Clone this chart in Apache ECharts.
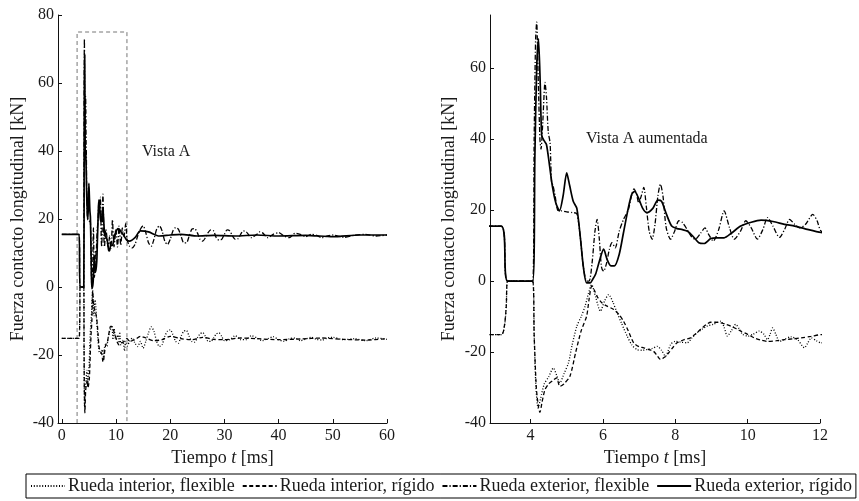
<!DOCTYPE html>
<html>
<head>
<meta charset="utf-8">
<script src="https://cdn.jsdelivr.net/npm/echarts@6/dist/echarts.min.js"></script>
<style>html,body{margin:0;padding:0;background:#fff}#c{width:859px;height:501px}</style>
</head>
<body>
<div id="c"></div>
<script>
// ---------- DATA ----------
const seriesNames = ['Rueda interior, flexible', 'Rueda interior, rígido', 'Rueda exterior, flexible', 'Rueda exterior, rígido'];

// Rueda exterior, rígido (solid)
const tExtRig = [0,3.19,3.37,4.06,4.12,4.17,4.22,4.27,4.31,4.38,4.44,4.52,4.6,4.7,4.8,4.9,5.0,5.08,5.18,5.28,5.38,5.46,5.55,5.65,5.72,5.8,5.9,6.02,6.12,6.22,6.32,6.45,6.57,6.7,6.8,6.88,6.98,7.1,7.22,7.38,7.52,7.62,7.75,7.9,8.05,8.2,8.35,8.5,8.65,8.8,8.98,9.15,9.35,9.55,9.81,10.1,10.37,10.7,11.02,11.3,11.57,12.03,
  12.5,13.5,14.5,16,18,20,22,25,28,32,36,40,45,50,55,60];
const vExtRig = [15.5,15.5,0,0,35,60,68.3,55,41,39.5,38.5,33,27,22,19.8,24,30.5,27,22.5,20.5,12,4,-0.5,-0.5,0.5,2,5.5,9,6,4.3,4.3,7.5,13.7,20.5,24.5,25.3,23.5,20.5,19.3,20.5,22.8,22.5,19,15.5,14.8,14.5,14,12.5,10.8,10.6,12,12.2,12.2,13.5,15.5,16.6,17.2,16.8,16,15.5,14.8,13.7,
  13.5,14.5,16.5,16.2,15,15.3,15.5,15,15.2,15,15.3,15,15.2,14.8,15.3,15.3];

// Rueda exterior, flexible (dash-dot)
const tExtFlex = [0,3.19,3.37,4.06,4.1,4.14,4.17,4.21,4.26,4.29,4.34,4.4,4.44,4.49,4.54,4.58,4.62,4.68,4.75,4.85,5.0,5.15,5.28,5.38,5.46,5.55,5.62,5.7,5.78,5.84,5.9,5.96,6.02,6.1,6.18,6.25,6.34,6.45,6.57,6.7,6.8,6.86,6.93,6.99,7.06,7.13,7.2,7.28,7.36,7.44,7.52,7.59,7.66,7.75,7.87,7.98,8.1,8.2,8.33,8.45,8.55,8.7,8.82,8.93,9.05,9.2,9.35,9.5,9.63,9.8,9.95,10.1,10.27,10.42,10.55,10.7,10.88,11.02,11.16,11.3,11.44,11.6,11.8,11.92,12.03,
  12.5,13,13.5,14,14.5,15,15.5,16,16.5,17,17.5,18,18.5,19,19.5,20,20.5,21,21.5,22,22.5,23,23.5,24,24.5,25,25.5,26,26.5,27,27.5,28,28.5,29,29.5,30,30.5,31,31.5,32,32.5,33,33.5,34,35,36,36.5,37,38,39,40,41,42,43,44,45,46,47,48,49,50,52,54,56,58,60];
const vExtFlex = [15.5,15.5,0,0,40,68,73,58,40,37.2,45,56,52,42,39,28,27,24,20,19.8,19.5,19.3,19,12,4,0,0,5,14,17.4,12,4,2.8,5,9,10.8,9.4,14,17.4,20,24.5,26,24.5,22,24,26.4,21,14,11.8,16,24,27.3,24,15,11.8,14,17,16.5,14.5,12.5,11.8,13.5,15,13,11.3,14.5,19.8,15,11.8,14,17,15,11.8,14.5,17.9,15.5,12.3,14.5,17.4,16,15,16,18.8,17,14.1,
  12,11.5,12.5,15,17,18,16,13,12,14,17,18,16.5,13.5,12.5,14,16.5,17.5,17,15,13,13,15,17,17.2,16,14,13.5,14.5,16,16.8,16.5,14.5,13.8,14,15.5,16.8,16.5,15,14,14.2,15.5,16.5,16.3,14.5,15.5,16.2,16,14.5,15.5,16,15,14.5,15.8,15.5,14.8,15.5,15.2,14.5,15,15.3,14.6,15.2,15.5,15,15.3];

// Rueda interior, rígido (dashed)
const tIntRig = [0,3.19,3.28,3.33,3.37,4.06,4.1,4.16,4.22,4.26,4.32,4.4,4.5,4.62,4.72,4.81,4.92,5.09,5.25,5.4,5.55,5.62,5.69,5.76,5.85,5.97,6.1,6.3,6.45,6.57,6.7,6.85,7.0,7.13,7.27,7.4,7.5,7.59,7.7,7.82,7.95,8.05,8.25,8.42,8.55,8.7,8.85,8.98,9.12,9.26,9.4,9.54,9.7,9.81,10.0,10.18,10.35,10.55,10.8,11.02,11.25,11.48,11.75,12.03,
  12.5,13.5,14.5,15.5,17,18.5,20,22,24,26,28,30,33,36,40,44,48,52,56,60];
const vIntRig = [-15.1,-15.1,-12.5,-7,0,0,-15,-30,-35.5,-37,-34,-30.6,-29,-28,-27.3,-29.7,-29,-26.8,-20,-14,-9.9,-5,-1.4,-2.5,-4.5,-6.1,-7,-8,-9.5,-11.3,-14,-17.4,-18.5,-18.8,-19.3,-19.8,-21,-22.1,-21.5,-20.2,-18.5,-17.4,-16.5,-16,-15,-13.6,-12.3,-11.6,-11.6,-11.8,-12.2,-12.7,-13.5,-14.1,-15,-16,-16.6,-17,-16.8,-16.5,-16.3,-16,-15.6,-15.1,
  -16,-15.5,-14.5,-15,-15.8,-15.5,-14.5,-15.2,-15.5,-14.8,-15.4,-15.5,-15,-15.2,-15.5,-15.3,-15,-15.4,-15.6,-15.2];

// Rueda interior, flexible (dotted)
const tIntFlex = [0,3.19,3.28,3.33,3.37,4.06,4.1,4.15,4.21,4.28,4.38,4.5,4.63,4.72,4.81,4.93,5.05,5.15,5.28,5.4,5.51,5.6,5.69,5.8,5.93,6.05,6.16,6.28,6.39,6.52,6.67,6.8,6.94,7.08,7.22,7.36,7.5,7.62,7.73,7.87,8.0,8.15,8.33,8.46,8.6,8.75,8.88,9.05,9.26,9.35,9.44,9.55,9.67,9.77,9.86,10.0,10.15,10.32,10.45,10.55,10.62,10.69,10.78,10.88,11.0,11.2,11.38,11.57,11.66,11.76,11.9,12.03,
  12.5,13,13.5,14,14.5,15,15.5,16,16.5,17,17.5,18,18.5,19,19.5,20,20.5,21,21.5,22,22.5,23,23.5,24,24.5,25,25.5,26,26.5,27,27.5,28,28.5,29,29.5,30,31,32,33,34,35,36,37,38,39,40,41,42,43,44,45,46,47,48,49,50,52,54,56,58,60];
const vIntFlex = [-15.1,-15.1,-12.5,-7,0,0,-15,-30,-35.8,-33,-29,-27,-24.5,-26.5,-28.7,-26,-23,-18,-12.7,-10,-7,-3.5,-1,-4.5,-8.5,-5.5,-3.8,-6,-8.9,-12,-15.5,-18,-19.3,-19.5,-19.3,-19,-18.4,-19.5,-21.2,-17.9,-17,-17.2,-17.4,-16,-14.6,-13.5,-12.7,-12.2,-11.3,-13,-15.5,-14,-12.2,-13.5,-15,-15.5,-15,-14.1,-15,-16.5,-15,-13.2,-15,-17,-16.5,-15.7,-16.5,-18.8,-17.5,-16,-16.8,-17.4,
  -16,-15,-16.5,-17.5,-16,-18,-16,-13.5,-11.7,-13,-16,-17.5,-17,-14.5,-13,-12.6,-14,-16,-16.5,-14.5,-13,-12.8,-14.5,-16,-16.2,-15,-13.8,-13.4,-14.5,-16,-16,-15,-13.8,-13.5,-14.5,-15.8,-15.5,-14.3,-15.5,-15.5,-14.3,-15,-15.8,-15.2,-14.6,-15.5,-16,-15.2,-15,-15.8,-15.3,-14.8,-15.4,-15.6,-15,-14.8,-15.5,-15.2,-15.8,-15,-15.4];

// Vista A frame (data coordinates on left plot)
const vistaBoxT = [2.82, 2.82, 12.02, 12.02];
const vistaBoxV = [-40, 75, 75, -40];

// Tick labels
const leftXTicks = [0,10,20,30,40,50,60];
const leftYTicks = [-40,-20,0,20,40,60,80];
const rightXTicks = [4,6,8,10,12];
const rightYTicks = [-40,-20,0,20,40,60];

// ---------- CHART ----------
const FONT = 'Liberation Serif';
const TXT = '#1a1a1a';
const pairs = (t, v) => t.map((x, i) => [x, v[i]]);

const styles = [
  { width: 1.3, type: [1, 1.8] },
  { width: 1.3, type: [4, 2.5] },
  { width: 1.3, type: [5, 2, 1.2, 2] },
  { width: 1.7, type: 'solid' }
];
const dataSets = [pairs(tIntFlex, vIntFlex), pairs(tIntRig, vIntRig), pairs(tExtFlex, vExtFlex), pairs(tExtRig, vExtRig)];

function axisX(idx, min, max, ticks) {
  return {
    type: 'value', gridIndex: idx, min: min, max: max,
    name: 'Tiempo {i|t} [ms]', nameLocation: 'middle', nameGap: 20,
    nameTextStyle: { fontFamily: FONT, fontSize: 18, color: TXT,
      rich: { i: { fontFamily: FONT, fontSize: 18, fontStyle: 'italic', color: TXT } } },
    axisLine: { onZero: false, lineStyle: { color: '#111', width: 1 } },
    axisTick: { inside: true, length: 4, customValues: ticks, lineStyle: { color: '#111' } },
    axisLabel: { customValues: ticks, margin: 5, fontFamily: FONT, fontSize: 16, color: TXT },
    splitLine: { show: false }
  };
}
function axisY(idx, min, max, ticks, gap) {
  return {
    type: 'value', gridIndex: idx, min: min, max: max,
    name: 'Fuerza contacto longitudinal [kN]', nameLocation: 'middle', nameGap: gap, nameRotate: 90,
    nameTextStyle: { fontFamily: FONT, fontSize: 18, color: TXT },
    axisLine: { show: true, onZero: false, lineStyle: { color: '#111', width: 1 } },
    axisTick: { show: true, inside: true, length: 4, customValues: ticks, lineStyle: { color: '#111' } },
    axisLabel: { customValues: ticks, margin: 4, fontFamily: FONT, fontSize: 16, color: TXT },
    splitLine: { show: false }
  };
}

const series = [];
[0, 1].forEach(g => {
  dataSets.forEach((d, k) => {
    series.push({
      name: seriesNames[k], type: 'line', xAxisIndex: g, yAxisIndex: g,
      data: d, showSymbol: false, symbol: 'none', smooth: 0.25, clip: true,
      itemStyle: { color: '#000' },
      lineStyle: { color: '#000', width: styles[k].width, type: styles[k].type },
      z: 2 + k, animation: false
    });
  });
});
series.push({
  type: 'line', xAxisIndex: 0, yAxisIndex: 0, data: pairs(vistaBoxT, vistaBoxV),
  showSymbol: false, symbol: 'none', silent: true, animation: false,
  lineStyle: { color: '#777', width: 1, type: [4, 3] }, z: 1
});

const chart = echarts.init(document.getElementById('c'), null, { renderer: 'canvas' });
chart.setOption({
  animation: false,
  backgroundColor: '#fff',
  textStyle: { fontFamily: FONT, color: TXT },
  grid: [
    { left: 58, top: 15, width: 329, height: 408 },
    { left: 490, top: 15, width: 330, height: 408 }
  ],
  xAxis: [axisX(0, -0.7, 60, leftXTicks), axisX(1, 2.88, 12, rightXTicks)],
  yAxis: [axisY(0, -40, 80, leftYTicks, 31), axisY(1, -40, 75, rightYTicks, 32)],
  legend: {
    data: seriesNames, left: 26, top: 474, orient: 'horizontal',
    itemWidth: 34, itemHeight: 14, itemGap: 7, padding: [3, 4, 3, 4],
    borderColor: '#000', borderWidth: 1, borderRadius: 0,
    itemStyle: { opacity: 0 },
    lineStyle: { color: '#000' },
    textStyle: { fontFamily: FONT, fontSize: 18, color: TXT, padding: [0, 0, 0, -2] },
    selectedMode: false
  },
  graphic: [
    { type: 'text', left: 142, top: 144, style: { text: 'Vista A', font: '16px "Liberation Serif"', fill: TXT } },
    { type: 'text', left: 586, top: 131, style: { text: 'Vista A aumentada', font: '16px "Liberation Serif"', fill: TXT } }
  ],
  series: series
});
</script>
</body>
</html>
